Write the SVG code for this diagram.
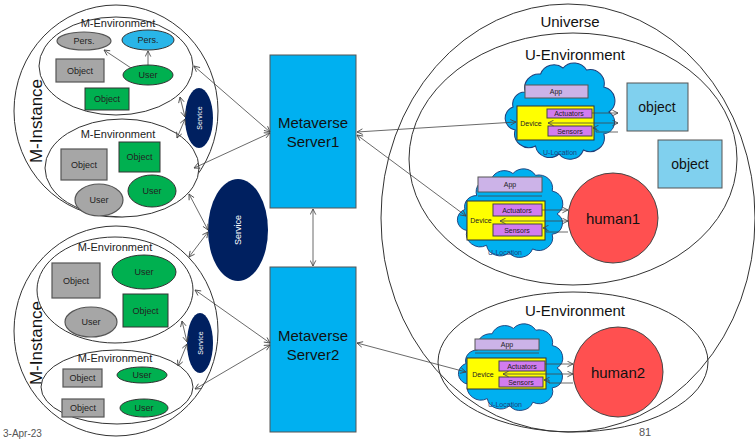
<svg xmlns="http://www.w3.org/2000/svg" width="755" height="439" viewBox="0 0 755 439">
<style>
text{font-family:"Liberation Sans",Arial,sans-serif;text-anchor:middle;dominant-baseline:central}
.ol{fill:none;stroke:#333;stroke-width:1}
.env{fill:#fff;stroke:#333;stroke-width:1}
.gr{fill:#a6a6a6;stroke:#555;stroke-width:1.2}
.gn{fill:#00b050;stroke:#333;stroke-width:1}
.bl{fill:#29b5e8;stroke:#333;stroke-width:1}
.sv{fill:#002060}
.srv{fill:#00b0f0;stroke:#555;stroke-width:1}
.obj{fill:#80d0ee;stroke:#555;stroke-width:1}
.hum{fill:#ff5050;stroke:#444;stroke-width:1}
.cl{fill:#00b0f0;stroke:#1f3f7a;stroke-width:1}
.app{fill:#ccb3e8;stroke:#555;stroke-width:1}
.dev{fill:#ffff00;stroke:#333;stroke-width:1}
.act{fill:#d27cf0;stroke:#444;stroke-width:1}
.c{fill:none;stroke:#444;stroke-width:0.8}
.t9{font-size:9px;fill:#222}
.t7{font-size:7px;fill:#222}
.t11{font-size:11px;fill:#222}
.t15{font-size:15px;fill:#111}
.w{fill:#fff}
</style>
<defs>
<marker id="a" viewBox="0 0 10 10" refX="9" refY="5" markerWidth="7" markerHeight="7" orient="auto-start-reverse" markerUnits="userSpaceOnUse"><path d="M1,1 L9,5 L1,9" fill="none" stroke="#444" stroke-width="1.2"/></marker>
<path id="cloud" d="M15,30 A14,14 0 0 1 30,12 A14,14 0 0 1 52,6 A14,14 0 0 1 75,8 A14,14 0 0 1 92,25 A14,14 0 0 1 97,50 A12,12 0 0 1 92,72 A14,14 0 0 1 72,88 A14,14 0 0 1 48,92 A14,14 0 0 1 25,84 A14,14 0 0 1 5,68 A12,12 0 0 1 3,45 A12,12 0 0 1 15,30 Z"/>
</defs>

<!-- Universe side -->
<g id="universe">
<ellipse class="ol" cx="568" cy="218" rx="187" ry="214"/>
<text class="t15" x="570" y="21">Universe</text>
</g>
<g id="u-env1">
<ellipse class="ol" cx="573" cy="159" rx="164" ry="126"/>
<text class="t15" x="575" y="54">U-Environment</text>
</g>
<g id="u-env2">
<ellipse class="ol" cx="573" cy="362" rx="135" ry="70"/>
<text class="t15" x="575" y="310">U-Environment</text>
</g>
<g id="object1"><rect class="obj" x="627" y="83" width="61" height="48"/><text x="657" y="107" style="font-size:14px;fill:#111">object</text></g>
<g id="object2"><rect class="obj" x="658" y="140" width="64" height="48"/><text x="690" y="164" style="font-size:14px;fill:#111">object</text></g>
<g id="human1"><circle class="hum" cx="613" cy="218" r="45"/><text class="t15" x="613" y="218">human1</text></g>
<g id="human2"><circle class="hum" cx="618" cy="372" r="45"/><text class="t15" x="618" y="372">human2</text></g>

<g id="uloc1">
<use href="#cloud" class="cl" transform="translate(510,62) scale(1.02,1)" vector-effect="non-scaling-stroke" style="stroke-width:1"/>
<rect class="app" x="525" y="85" width="63" height="13"/><text class="t7" x="556" y="91.5">App</text>
<rect class="dev" x="517" y="106" width="77" height="34"/><text class="t7" x="531" y="123">Device</text>
<rect class="act" x="547" y="109" width="45" height="9"/><text class="t7" x="569" y="113.5">Actuators</text>
<rect class="act" x="548" y="126" width="44" height="10"/><text class="t7" x="570" y="131">Sensors</text>
<text class="t7" x="560" y="152" style="fill:#1f3f7a">U-Location</text>
</g>
<g id="uloc2">
<use href="#cloud" class="cl" transform="translate(462,168) scale(0.98,0.92)"/>
<rect class="app" x="478" y="177" width="64" height="15"/><text class="t7" x="510" y="184.5">App</text>
<line x1="478" y1="196" x2="542" y2="196" stroke="#444" stroke-width="0.8"/>
<rect class="dev" x="467" y="201" width="78" height="39"/><text class="t7" x="481" y="220">Device</text>
<rect class="act" x="493" y="204" width="49" height="12"/><text class="t7" x="517" y="210">Actuators</text>
<rect class="act" x="493" y="224" width="49" height="12"/><text class="t7" x="517" y="230">Sensors</text>
<text class="t7" x="505" y="252" style="fill:#1f3f7a">U-Location</text>
</g>
<g id="uloc3">
<use href="#cloud" class="cl" transform="translate(463,323) scale(0.97,0.9)"/>
<rect class="app" x="475" y="339" width="64" height="11"/><text class="t7" x="507" y="344.5">App</text>
<line x1="475" y1="353" x2="539" y2="353" stroke="#444" stroke-width="0.8"/>
<rect class="dev" x="467" y="358" width="79" height="31"/><text class="t7" x="483" y="374">Device</text>
<rect class="act" x="499" y="361" width="46" height="10"/><text class="t7" x="522" y="366">Actuators</text>
<rect class="act" x="499" y="377" width="44" height="10"/><text class="t7" x="521" y="382">Sensors</text>
<text class="t7" x="505" y="404" style="fill:#1f3f7a">U-Location</text>
</g>

<!-- Servers -->
<g id="server1"><rect class="srv" x="270" y="55" width="86" height="153"/><text class="t15" x="313" y="122">Metaverse</text><text class="t15" x="313" y="141">Server1</text></g>
<g id="server2"><rect class="srv" x="270" y="267" width="86" height="165"/><text class="t15" x="313" y="335">Metaverse</text><text class="t15" x="313" y="354">Server2</text></g>
<g id="service-main"><ellipse class="sv" cx="238" cy="230" rx="30" ry="51"/><text class="w" x="238" y="230" transform="rotate(-90 238 230)" style="font-size:9px">Service</text></g>

<!-- M-Instance top -->
<g id="m-instance1">
<ellipse class="ol" cx="116" cy="111" rx="102" ry="106"/>
<text x="36" y="121" transform="rotate(-90 36 121)" style="font-size:17px;fill:#111">M-Instance</text>
</g>
<g id="m-env1">
<ellipse class="env" cx="116" cy="66" rx="77" ry="49"/>
<text class="t11" x="118" y="23">M-Environment</text>
<ellipse class="gr" cx="84" cy="41" rx="27" ry="9"/><text class="t9" x="84" y="41">Pers.</text>
<ellipse class="bl" cx="148" cy="40" rx="26" ry="10"/><text class="t9" x="148" y="40">Pers.</text>
<rect class="gr" x="56" y="59" width="48" height="23"/><text class="t9" x="80" y="70.5">Object</text>
<ellipse class="gn" cx="148" cy="75" rx="25" ry="10"/><text class="t9" x="148" y="75">User</text>
<rect class="gn" x="85" y="88" width="44" height="22"/><text class="t9" x="107" y="99">Object</text>
</g>
<g id="m-env2">
<ellipse class="env" cx="122" cy="168" rx="77" ry="49"/>
<text class="t11" x="118" y="134">M-Environment</text>
<rect class="gr" x="61" y="149" width="46" height="31"/><text class="t9" x="84" y="164.5">Object</text>
<rect class="gn" x="119" y="142" width="41" height="30"/><text class="t9" x="139.5" y="157">Object</text>
<ellipse class="gn" cx="152" cy="191" rx="24" ry="16"/><text class="t9" x="152" y="191">User</text>
<ellipse class="gr" cx="99" cy="200" rx="24" ry="16"/><text class="t9" x="99" y="200">User</text>
</g>
<g id="service1"><ellipse class="sv" cx="199" cy="118" rx="14" ry="30"/><text class="w" x="199" y="118" transform="rotate(-90 199 118)" style="font-size:7px">Service</text></g>

<!-- M-Instance bottom -->
<g id="m-instance2">
<ellipse class="ol" cx="116" cy="331" rx="102" ry="105"/>
<text x="36" y="343" transform="rotate(-90 36 343)" style="font-size:17px;fill:#111">M-Instance</text>
</g>
<g id="m-env3">
<ellipse class="env" cx="115" cy="290" rx="78" ry="53"/>
<text class="t11" x="115" y="247">M-Environment</text>
<rect class="gr" x="52" y="263" width="48" height="35"/><text class="t9" x="76" y="280.5">Object</text>
<ellipse class="gn" cx="144" cy="272" rx="32" ry="17"/><text class="t9" x="144" y="272">User</text>
<rect class="gn" x="123" y="294" width="45" height="33"/><text class="t9" x="145.5" y="310.5">Object</text>
<ellipse class="gr" cx="91" cy="322" rx="26" ry="15"/><text class="t9" x="91" y="322">User</text>
</g>
<g id="m-env4">
<ellipse class="env" cx="117" cy="387" rx="76" ry="37"/>
<text class="t11" x="115" y="358">M-Environment</text>
<rect class="gr" x="63" y="369" width="39" height="18"/><text class="t9" x="82.5" y="378">Object</text>
<rect class="gr" x="62" y="399" width="42" height="18"/><text class="t9" x="83" y="408">Object</text>
<ellipse class="gn" cx="142" cy="375" rx="25" ry="8"/><text class="t9" x="142" y="375">User</text>
<ellipse class="gn" cx="144" cy="408" rx="24" ry="9"/><text class="t9" x="144" y="408">User</text>
</g>
<g id="service2"><ellipse class="sv" cx="200" cy="343" rx="13" ry="30"/><text class="w" x="200" y="343" transform="rotate(-90 200 343)" style="font-size:7px">Service</text></g>

<!-- Connectors -->
<g id="connectors">
<line class="c" x1="148" y1="65" x2="148" y2="51" marker-end="url(#a)"/>
<line class="c" x1="131" y1="68" x2="104" y2="50" marker-end="url(#a)"/>
<line class="c" x1="180" y1="97" x2="185" y2="117" marker-start="url(#a)" marker-end="url(#a)"/>
<line class="c" x1="185" y1="119" x2="177" y2="138" marker-start="url(#a)" marker-end="url(#a)"/>
<line class="c" x1="182" y1="321" x2="187" y2="342" marker-start="url(#a)" marker-end="url(#a)"/>
<line class="c" x1="187" y1="344" x2="178" y2="366" marker-start="url(#a)" marker-end="url(#a)"/>
<line class="c" x1="189" y1="194" x2="208" y2="230" marker-start="url(#a)" marker-end="url(#a)"/>
<line class="c" x1="208" y1="232" x2="189" y2="257" marker-start="url(#a)" marker-end="url(#a)"/>
<line class="c" x1="194" y1="66" x2="270" y2="132" marker-start="url(#a)" marker-end="url(#a)"/>
<line class="c" x1="270" y1="133" x2="194" y2="168" marker-start="url(#a)" marker-end="url(#a)"/>
<line class="c" x1="195" y1="290" x2="270" y2="343" marker-start="url(#a)" marker-end="url(#a)"/>
<line class="c" x1="270" y1="345" x2="195" y2="389" marker-start="url(#a)" marker-end="url(#a)"/>
<line class="c" x1="313" y1="209" x2="313" y2="266" marker-start="url(#a)" marker-end="url(#a)"/>
<line class="c" x1="357" y1="132" x2="516" y2="122" marker-start="url(#a)" marker-end="url(#a)"/>
<line class="c" x1="357" y1="135" x2="466" y2="216" marker-start="url(#a)" marker-end="url(#a)"/>
<line class="c" x1="357" y1="343" x2="466" y2="372" marker-start="url(#a)" marker-end="url(#a)"/>
<line class="c" x1="592" y1="113" x2="618" y2="113" marker-end="url(#a)"/>
<line class="c" x1="548" y1="123" x2="618" y2="123" marker-start="url(#a)" marker-end="url(#a)"/>
<polyline class="c" points="618,132 596,132 596,128 593,128" marker-end="url(#a)"/>
<line class="c" x1="542" y1="210" x2="568" y2="210" marker-end="url(#a)"/>
<line class="c" x1="500" y1="221" x2="568" y2="221" marker-start="url(#a)" marker-end="url(#a)"/>
<polyline class="c" points="568,232 546,232 546,228 543,228" marker-end="url(#a)"/>
<line class="c" x1="545" y1="364" x2="573" y2="364" marker-end="url(#a)"/>
<line class="c" x1="503" y1="374" x2="573" y2="374" marker-start="url(#a)" marker-end="url(#a)"/>
<polyline class="c" points="573,383 549,383 549,380 544,380" marker-end="url(#a)"/>
</g>

<text x="3" y="433" style="font-size:10px;fill:#555;text-anchor:start">3-Apr-23</text>
<text x="645" y="432" style="font-size:11px;fill:#555">81</text>
</svg>
